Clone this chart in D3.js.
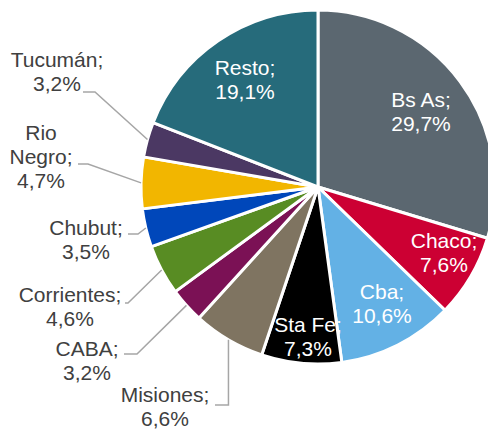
<!DOCTYPE html>
<html>
<head>
<meta charset="utf-8">
<script src="https://cdn.jsdelivr.net/npm/d3@7"></script>
<style>
  html, body { margin: 0; padding: 0; background: #fff; }
  svg { display: block; }
  text { font-family: "Liberation Sans", Arial, sans-serif; }
</style>
</head>
<body>
<svg id="chart" width="488" height="432"></svg>
<script>
// ---- data ----
const categories = ["Bs As", "Chaco", "Cba", "Sta Fe", "Misiones", "CABA", "Corrientes", "Chubut", "Rio Negro", "Tucumán", "Resto"];
const values = [29.7, 7.6, 10.6, 7.3, 6.6, 3.2, 4.6, 3.5, 4.7, 3.2, 19.1];
const colors = ["#5b6770", "#cc0033", "#63b1e5", "#000000", "#7f7461", "#7b1155", "#588c23", "#0047ba", "#f2b600", "#4b3863", "#266b7b"];
// label name lines (Rio Negro wraps)
const nameLines = [["Bs As;"], ["Chaco;"], ["Cba;"], ["Sta Fe;"], ["Misiones;"], ["CABA;"], ["Corrientes;"], ["Chubut;"], ["Rio", "Negro;"], ["Tucumán;"], ["Resto;"]];

// ---- layout (label placement, not data) ----
const cx = 318, cy = 187, R = 177;
const lineH = 24;
// inside labels: offset of text centre from pie centre, first baseline
const inside = {
  "Bs As":  {dx: 103, y: 107},
  "Chaco":  {dx: 126, y: 248},
  "Cba":    {dx: 64,  y: 299},
  "Sta Fe": {dx: -10, y: 332},
  "Resto":  {dx: -73, y: 75}
};
// outside labels: text centre x, first baseline y, leader start (x0,y0), elbow x1
const outside = {
  "Tucumán":    {x: 57,  y: 67,  x0: 83,  y0: 92,  x1: 95},
  "Rio Negro":  {x: 41,  y: 140, x0: 78,  y0: 164, x1: 88},
  "Chubut":     {x: 86,  y: 235, x0: 128, y0: 234, x1: 138},
  "Corrientes": {x: 70,  y: 302, x0: 125, y0: 303, x1: 128},
  "CABA":       {x: 87,  y: 356, x0: 124, y0: 354, x1: 137},
  "Misiones":   {x: 165, y: 402, x0: 215, y0: 405, x1: null}
};

const fmt = v => d3.format(".1f")(v).replace(".", ",") + "%";

const svg = d3.select("#chart");
const g = svg.append("g").attr("transform", `translate(${cx},${cy})`);

const pie = d3.pie().sort(null).value(d => d.value);
const data = categories.map((c, i) => ({name: c, value: values[i], color: colors[i], lines: nameLines[i]}));
const arcs = pie(data);
const arc = d3.arc().innerRadius(0).outerRadius(R);

g.selectAll("path.slice").data(arcs).enter().append("path")
  .attr("class", "slice")
  .attr("d", arc)
  .attr("fill", d => d.data.color)
  .attr("stroke", "#fff")
  .attr("stroke-width", 3)
  .attr("stroke-linejoin", "round");

// leader lines
arcs.forEach(a => {
  const o = outside[a.data.name];
  if (!o) return;
  const mid = (a.startAngle + a.endAngle) / 2;
  const ex = cx + R * Math.sin(mid), ey = cy - R * Math.cos(mid);
  const x1 = o.x1 == null ? ex : o.x1;
  svg.append("polyline")
    .attr("points", `${o.x0},${o.y0} ${x1},${o.y0} ${ex},${ey}`)
    .attr("fill", "none")
    .attr("stroke", "#a6a6a6")
    .attr("stroke-width", 1.5);
});

// labels
arcs.forEach(a => {
  const d = a.data;
  const lines = d.lines.concat([fmt(d.value)]);
  let x, y, fill;
  if (inside[d.name]) {
    x = cx + inside[d.name].dx; y = inside[d.name].y; fill = "#ffffff";
  } else {
    const o = outside[d.name];
    x = o.x; y = o.y; fill = "#404040";
  }
  const t = svg.append("text")
    .attr("text-anchor", "middle")
    .attr("font-size", 21)
    .attr("fill", fill);
  lines.forEach((l, i) => {
    t.append("tspan").attr("x", x).attr("y", y + i * lineH).text(l);
  });
});
</script>
</body>
</html>
